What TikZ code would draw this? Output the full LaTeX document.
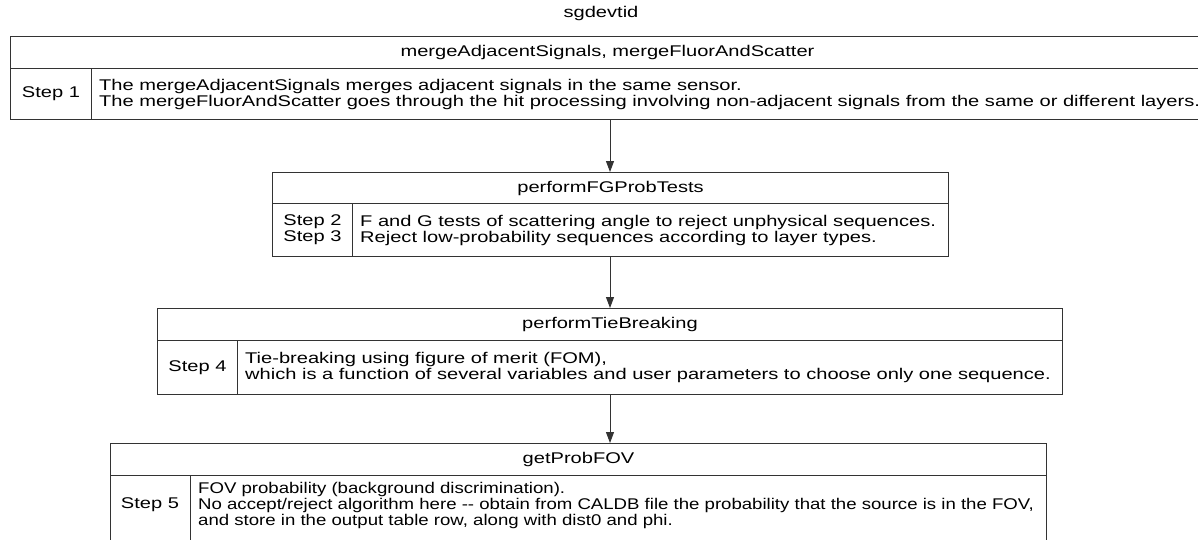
\documentclass[tikz,border=0pt]{standalone}
\usepackage{fontspec}
\setmainfont{Liberation Sans}[FakeStretch=1.295]
\newfontfamily\narrowfont{Liberation Sans}[FakeStretch=1.2]
\usetikzlibrary{arrows.meta}
\tikzset{
  cell/.style={draw=black!80, line width=1pt, rectangle, inner sep=0pt, anchor=north west},
  txt/.style={align=left, inner sep=0pt, anchor=west},
  fnt/.style={font=\fontsize{15.5}{16}\selectfont},
  arr/.style={draw=black!80, line width=1pt, -{Triangle[length=11pt,width=8pt]}}
}
\begin{document}
\begin{tikzpicture}[x=1pt,y=-1pt,fnt]
\useasboundingbox (0,0) rectangle (1198,539);
\node (title) at (601,13) {sgdevtid};
% box 1
\node[cell, minimum width=1194pt, minimum height=32pt] (h1) at (10,36) {mergeAdjacentSignals, mergeFluorAndScatter};
\node[cell, minimum width=81pt, minimum height=51pt] (s1) at (10,68) {Step 1};
\node[cell, minimum width=1113pt, minimum height=51pt] (t1) at (91,68) {};
\node[txt] (t1x) at ([xshift=8pt]t1.west) {The mergeAdjacentSignals merges adjacent signals in the same sensor.\\The mergeFluorAndScatter goes through the hit processing involving non-adjacent signals from the same or different layers.};
% box 2
\node[cell, minimum width=676pt, minimum height=31pt] (h2) at (272,172) {performFGProbTests};
\node[cell, minimum width=80pt, minimum height=53pt, align=center] (s2) at (272,203) {Step 2\\Step 3};
\node[cell, minimum width=596pt, minimum height=53pt] (t2) at (352,203) {};
\node[txt] (t2x) at ([xshift=8pt]t2.west) {F and G tests of scattering angle to reject unphysical sequences.\\Reject low-probability sequences according to layer types.};
% box 3
\node[cell, minimum width=905pt, minimum height=32pt] (h3) at (157,308) {performTieBreaking};
\node[cell, minimum width=80pt, minimum height=54pt] (s3) at (157,340) {Step 4};
\node[cell, minimum width=825pt, minimum height=54pt] (t3) at (237,340) {};
\node[txt] (t3x) at ([xshift=8pt]t3.west) {Tie-breaking using figure of merit (FOM),\\which is a function of several variables and user parameters to choose only one sequence.};
% box 4
\node[cell, minimum width=936pt, minimum height=32pt] (h4) at (110,443) {getProbFOV};
\node[cell, minimum width=80pt, minimum height=72pt] (s4) at (110,475) {};
\node (s4x) at (150,505) {Step 5};
\node[cell, minimum width=856pt, minimum height=72pt] (t4) at (190,475) {};
\node[txt, font=\fontsize{15.5}{16}\narrowfont] (t4x) at (198,505) {FOV probability (background discrimination).\\No accept/reject algorithm here -{}- obtain from CALDB file the probability that the source is in the FOV,\\and store in the output table row, along with dist0 and phi.};
% arrows
\coordinate (ax) at (610,0);
\draw[arr] (s1.south -| ax) -- (h2.north -| ax);
\draw[arr] (s2.south -| ax) -- (h3.north -| ax);
\draw[arr] (s3.south -| ax) -- (h4.north -| ax);
\end{tikzpicture}
\end{document}
